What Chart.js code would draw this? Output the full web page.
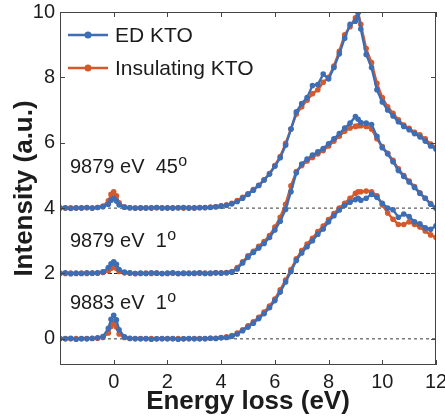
<!DOCTYPE html>
<html>
<head>
<meta charset="utf-8">
<script src="https://cdn.jsdelivr.net/npm/chart.js@4.4.0/dist/chart.umd.min.js"></script>
<style>
  html, body { margin: 0; padding: 0; background: #ffffff; }
  #wrap { position: relative; width: 445px; height: 419px; }
</style>
</head>
<body>
<div id="wrap"><canvas id="c" width="445" height="419"></canvas></div>
<script>
// ---------------- DATA ----------------
const energy = [-2.0,-1.8,-1.6,-1.4,-1.2,-1.0,-0.8,-0.6,-0.4,
  -0.2,-0.1,0.0,0.1,0.2,
  0.4,0.6,0.8,1.0,1.2,1.4,1.6,1.8,2.0,2.2,2.4,2.6,2.8,3.0,3.2,3.4,3.6,3.8,4.0,4.2,
  4.4,4.6,4.8,5.0,5.2,5.4,5.6,5.8,6.0,6.2,6.4,6.6,6.8,7.0,7.2,7.4,7.6,7.8,8.0,8.2,8.4,8.6,8.8,9.0,
  9.1,
  9.2,9.4,9.6,9.8,10.0,10.2,10.4,10.6,10.8,11.0,11.2,11.4,11.6,11.8,12.0];

// 9883 eV, 1 deg (offset 0)
const ed_9883_1 = [0.01,0.00,0.02,-0.01,0.01,0.00,0.02,0.03,0.07,
  0.32,0.60,0.72,0.58,0.28,
  0.06,0.02,0.01,0.00,0.01,-0.01,0.00,0.01,0.00,0.01,-0.01,0.00,0.01,0.00,0.00,0.01,0.02,0.01,0.03,0.04,
  0.08,0.15,0.25,0.36,0.48,0.62,0.77,0.95,1.17,1.43,1.74,2.06,2.40,2.63,2.82,3.00,3.20,3.36,3.58,3.77,3.94,4.08,4.18,4.26,
  4.30,
  4.24,4.30,4.42,4.33,4.15,4.00,3.95,3.72,3.82,3.74,3.58,3.52,3.40,3.35,3.46];
const ins_9883_1 = [0.00,0.01,0.00,0.01,0.00,0.01,0.01,0.02,0.04,
  0.18,0.38,0.48,0.36,0.15,
  0.04,0.01,0.00,0.01,0.00,0.01,0.00,0.00,0.01,0.00,0.01,0.00,0.00,0.01,0.01,0.00,0.02,0.02,0.04,0.06,
  0.10,0.18,0.28,0.40,0.52,0.66,0.82,1.00,1.22,1.50,1.80,2.12,2.45,2.70,2.90,3.08,3.28,3.45,3.65,3.83,4.00,4.15,4.30,4.45,
  4.50,
  4.50,4.52,4.50,4.38,4.10,3.85,3.66,3.50,3.50,3.58,3.50,3.42,3.30,3.18,3.10];

// 9879 eV, 1 deg (offset 2)
const ed_9879_1 = [2.00,2.02,1.99,2.01,2.00,2.02,2.01,2.02,2.05,
  2.18,2.30,2.36,2.28,2.12,
  2.04,2.02,2.00,2.01,2.00,2.02,2.01,2.00,2.01,2.02,2.00,2.01,2.00,2.01,2.02,2.00,2.01,2.02,2.01,2.02,
  2.04,2.14,2.32,2.50,2.64,2.78,2.92,3.10,3.33,3.60,3.96,4.50,5.08,5.35,5.50,5.62,5.72,5.82,5.97,6.12,6.28,6.45,6.60,6.80,
  6.72,
  6.62,6.60,6.56,6.20,5.85,5.66,5.42,5.15,4.97,4.80,4.63,4.45,4.30,4.12,4.00];
const ins_9879_1 = [2.01,2.00,2.01,2.00,2.01,2.00,2.01,2.01,2.03,
  2.08,2.16,2.20,2.15,2.06,
  2.02,2.01,2.00,2.00,2.01,2.00,2.01,2.00,2.00,2.01,2.00,2.00,2.01,2.00,2.01,2.01,2.00,2.02,2.02,2.03,
  2.06,2.18,2.36,2.54,2.68,2.83,2.98,3.16,3.42,3.72,4.12,4.68,5.12,5.30,5.44,5.55,5.66,5.76,5.90,6.05,6.20,6.35,6.45,6.50,
  6.52,
  6.52,6.50,6.42,6.12,5.88,5.68,5.46,5.20,5.00,4.83,4.66,4.47,4.30,4.14,4.00];

// 9879 eV, 45 deg (offset 4)
const ed_9879_45 = [4.00,4.01,3.99,4.01,4.00,4.02,4.00,4.02,4.04,
  4.12,4.24,4.30,4.22,4.10,
  4.03,4.01,4.00,4.01,4.00,4.01,4.02,4.00,4.01,4.00,4.01,4.02,4.00,4.01,4.01,4.02,4.02,4.04,4.06,4.08,
  4.13,4.20,4.30,4.42,4.55,4.69,4.86,5.04,5.28,5.54,5.92,6.42,6.95,7.20,7.38,7.75,7.78,8.10,7.95,8.30,8.72,9.20,9.62,9.72,
  9.98,
  9.48,8.70,8.30,7.62,7.25,7.00,6.82,6.64,6.50,6.40,6.28,6.18,6.05,5.90,5.80];
const ins_9879_45 = [4.01,4.00,4.01,4.00,4.01,4.01,4.00,4.02,4.06,
  4.22,4.42,4.50,4.38,4.16,
  4.03,4.01,4.00,4.00,4.01,4.00,4.01,4.01,4.00,4.01,4.01,4.00,4.01,4.00,4.02,4.01,4.03,4.04,4.07,4.10,
  4.15,4.23,4.33,4.44,4.57,4.70,4.87,5.06,5.30,5.58,5.98,6.42,6.88,7.10,7.30,7.50,7.62,7.85,8.00,8.35,8.80,9.30,9.55,9.82,
  10.00,
  9.62,8.88,8.45,7.82,7.38,7.10,6.90,6.70,6.54,6.44,6.32,6.24,6.12,5.96,5.86];

const seriesNames = ['ED KTO', 'Insulating KTO'];
const curveLabels = ['9879 eV  45', '9879 eV  1', '9883 eV  1'];
const degreeMark = 'o';
const baselines = [0, 2, 4];
const xTicks = [0, 2, 4, 6, 8, 10, 12];
const yTicks = [0, 2, 4, 6, 8, 10];
const xTitle = 'Energy loss (eV)';
const yTitle = 'Intensity (a.u.)';

// ---------------- STYLE ----------------
const BLUE = '#3d6db4';
const ORANGE = '#d5592a';
const FONT = "'Liberation Sans', Arial, sans-serif";
const TEXT = '#1c1c1c';

function pts(vals) { return energy.map((e, i) => ({ x: e, y: vals[i] })); }
function curve(label, vals, color) {
  return {
    label: label, data: pts(vals),
    borderColor: color, backgroundColor: color,
    pointBackgroundColor: color, pointBorderColor: color,
    borderWidth: 2.4, pointRadius: 2.8, pointBorderWidth: 0,
    tension: 0
  };
}
const datasets = [
  curve(seriesNames[0], ed_9879_45, BLUE),
  curve(seriesNames[0], ed_9879_1, BLUE),
  curve(seriesNames[0], ed_9883_1, BLUE),
  curve(seriesNames[1], ins_9879_45, ORANGE),
  curve(seriesNames[1], ins_9879_1, ORANGE),
  curve(seriesNames[1], ins_9883_1, ORANGE)
];
baselines.forEach((b, i) => datasets.push({
  label: 'base', data: [{ x: -2, y: b }, { x: 12, y: b }],
  borderColor: i === 1 ? '#222' : '#3a3a3a', borderWidth: 1,
  borderDash: i === 1 ? [4, 2] : [3, 3],
  pointRadius: 0, tension: 0
}));

const overlay = {
  id: 'overlay',
  afterDraw(chart) {
    const ctx = chart.ctx, a = chart.chartArea;
    const xs = chart.scales.x, ys = chart.scales.y;
    ctx.save();
    // inward ticks + frame
    ctx.strokeStyle = '#444';
    ctx.lineWidth = 1;
    ctx.beginPath();
    xTicks.forEach(v => {
      const px = Math.round(xs.getPixelForValue(v)) + 0.5;
      ctx.moveTo(px, a.bottom); ctx.lineTo(px, a.bottom - 5);
      ctx.moveTo(px, a.top); ctx.lineTo(px, a.top + 5);
    });
    yTicks.forEach(v => {
      const py = Math.round(ys.getPixelForValue(v)) + 0.5;
      ctx.moveTo(a.left, py); ctx.lineTo(a.left + 5, py);
      ctx.moveTo(a.right, py); ctx.lineTo(a.right - 5, py);
    });
    ctx.stroke();
    ctx.strokeRect(Math.round(a.left) + 0.5, Math.round(a.top) + 0.5,
      Math.round(a.right - a.left) - 1, Math.round(a.bottom - a.top) - 1);

    // legend (inside, top-left)
    const legendItems = [[seriesNames[0], BLUE], [seriesNames[1], ORANGE]];
    legendItems.forEach((it, i) => {
      const y = a.top + 23 + i * 33;
      const x0 = a.left + 8, x1 = a.left + 48;
      ctx.strokeStyle = it[1]; ctx.lineWidth = 2.4;
      ctx.beginPath(); ctx.moveTo(x0, y); ctx.lineTo(x1, y); ctx.stroke();
      ctx.fillStyle = it[1];
      ctx.beginPath(); ctx.arc((x0 + x1) / 2, y, 3.5, 0, Math.PI * 2); ctx.fill();
      ctx.fillStyle = TEXT;
      ctx.font = '21px ' + FONT;
      ctx.textAlign = 'left'; ctx.textBaseline = 'middle';
      ctx.fillText(it[0], a.left + 55, y + 1);
    });

    // curve labels
    const labelY = [5.24, 2.99, 1.08];
    curveLabels.forEach((t, i) => {
      const x = a.left + 10;
      const y = ys.getPixelForValue(labelY[i]);
      ctx.fillStyle = TEXT;
      ctx.font = '20px ' + FONT;
      ctx.textAlign = 'left'; ctx.textBaseline = 'middle';
      ctx.fillText(t, x, y);
      const w = ctx.measureText(t).width;
      ctx.font = '16px ' + FONT;
      ctx.fillText(degreeMark, x + w + 0.5, y - 6);
    });
    ctx.restore();
  }
};

new Chart(document.getElementById('c'), {
  type: 'line',
  data: { datasets: datasets },
  options: {
    responsive: false,
    animation: false,
    devicePixelRatio: 1,
    layout: { padding: { top: 12, right: 9, left: 0, bottom: 0 } },
    plugins: { legend: { display: false }, tooltip: { enabled: false } },
    scales: {
      x: {
        type: 'linear', min: -2, max: 12,
        grid: { display: false, drawTicks: false },
        border: { display: false },
        ticks: { font: { size: 20, family: FONT }, color: TEXT, padding: 5, maxRotation: 0, autoSkip: false },
        title: { display: true, text: xTitle, color: TEXT,
          font: { size: 26, weight: 'bold', family: FONT }, padding: { top: 0, bottom: 2 } },
        afterBuildTicks: s => { s.ticks = xTicks.map(v => ({ value: v })); },
        afterFit: s => { s.height = 54; s.paddingLeft = 0; s.paddingRight = 0; }
      },
      y: {
        type: 'linear', min: -0.8, max: 10,
        grid: { display: false, drawTicks: false },
        border: { display: false },
        ticks: { font: { size: 20, family: FONT }, color: TEXT, padding: 5 },
        title: { display: true, text: yTitle, color: TEXT,
          font: { size: 26, weight: 'bold', family: FONT }, padding: { top: 9.5, bottom: 0 } },
        afterBuildTicks: s => { s.ticks = yTicks.map(v => ({ value: v })); },
        afterFit: s => { s.width = 60; s.paddingTop = 0; s.paddingBottom = 0; }
      }
    }
  },
  plugins: [overlay]
});
</script>
</body>
</html>
